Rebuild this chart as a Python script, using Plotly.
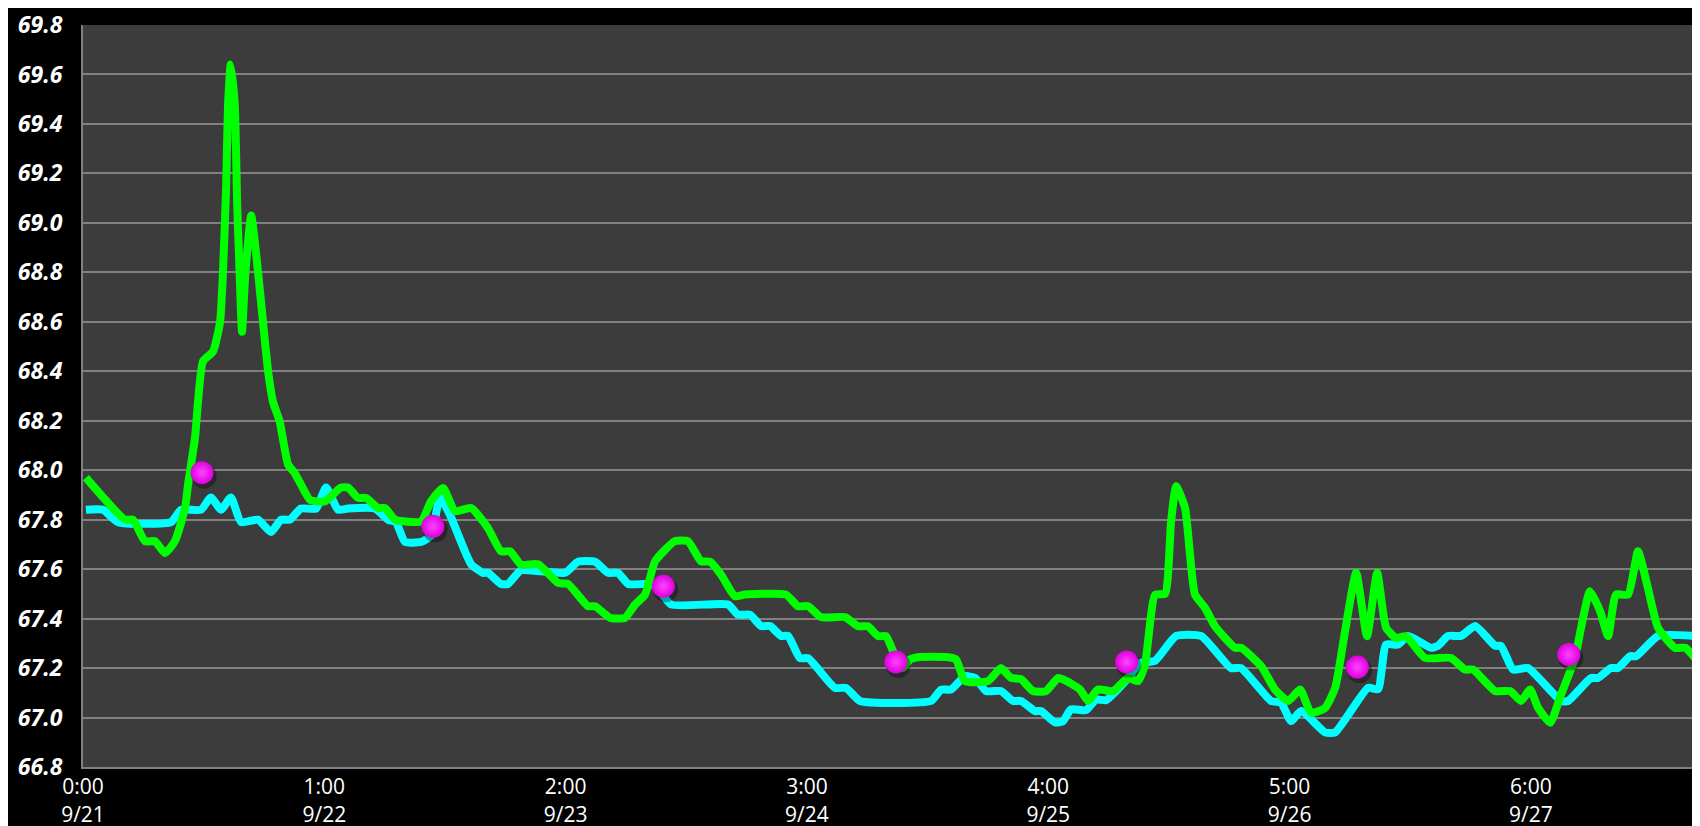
import plotly.graph_objects as go

# time in days since 9/21 0:00
cyan_t = [0.012, 0.083, 0.145, 0.365, 0.406, 0.489, 0.530, 0.572, 0.613, 0.655, 0.725, 0.779, 0.821, 0.858,
          0.903, 0.966, 1.007, 1.057, 1.098, 1.210, 1.264, 1.297, 1.334, 1.401, 1.442, 1.480, 1.525, 1.608,
          1.658, 1.678, 1.732, 1.761, 1.815, 1.998, 2.051, 2.122, 2.176, 2.217, 2.259, 2.329, 2.371, 2.437,
          2.673, 2.714, 2.764, 2.810, 2.847, 2.893, 2.922, 2.971, 3.005, 3.116, 3.162, 3.220, 3.514, 3.556,
          3.597, 3.655, 3.697, 3.742, 3.804, 3.854, 3.887, 3.945, 3.970, 4.028, 4.061, 4.094, 4.157, 4.198,
          4.240, 4.281, 4.331, 4.380, 4.443, 4.530, 4.633, 4.757, 4.799, 4.923, 4.965, 5.006, 5.048, 5.147,
          5.189, 5.325, 5.367, 5.400, 5.450, 5.491, 5.586, 5.615, 5.657, 5.711, 5.769, 5.852, 5.876, 5.926,
          5.988, 6.125, 6.154, 6.249, 6.278, 6.332, 6.361, 6.411, 6.436, 6.527, 6.680]
cyan_v = [67.84, 67.84, 67.79, 67.79, 67.84, 67.84, 67.89, 67.84, 67.89, 67.79, 67.80, 67.75, 67.80, 67.80,
          67.845, 67.845, 67.93, 67.84, 67.845, 67.845, 67.80, 67.79, 67.71, 67.71, 67.735, 67.89, 67.81, 67.62,
          67.585, 67.585, 67.54, 67.54, 67.595, 67.585, 67.63, 67.63, 67.585, 67.585, 67.54, 67.54, 67.535, 67.457,
          67.457, 67.416, 67.416, 67.37, 67.37, 67.33, 67.33, 67.24, 67.24, 67.12, 67.12, 67.067, 67.067, 67.113,
          67.113, 67.167, 67.16, 67.107, 67.107, 67.067, 67.067, 67.026, 67.026, 66.98, 66.985, 67.033, 67.03, 67.073,
          67.07, 67.107, 67.16, 67.22, 67.23, 67.33, 67.33, 67.20, 67.20, 67.067, 67.06, 66.986, 67.026, 66.94,
          66.94, 67.12, 67.115, 67.295, 67.295, 67.33, 67.282, 67.29, 67.33, 67.33, 67.37, 67.29, 67.29, 67.194,
          67.20, 67.067, 67.067, 67.16, 67.16, 67.20, 67.20, 67.248, 67.248, 67.33, 67.33]

green_t = [0.012, 0.174, 0.207, 0.257, 0.298, 0.340, 0.381, 0.423, 0.435, 0.464, 0.497, 0.539, 0.568, 0.580,
           0.593, 0.601, 0.612, 0.629, 0.639, 0.649, 0.659, 0.673, 0.697, 0.718, 0.739, 0.767, 0.787, 0.815,
           0.850, 0.877, 0.899, 0.941, 1.003, 1.069, 1.098, 1.140, 1.173, 1.223, 1.252, 1.293, 1.401, 1.442,
           1.492, 1.542, 1.608, 1.678, 1.732, 1.770, 1.815, 1.886, 1.969, 2.010, 2.093, 2.122, 2.184, 2.246,
           2.288, 2.329, 2.371, 2.453, 2.507, 2.561, 2.598, 2.644, 2.702, 2.743, 2.913, 2.963, 3.005, 3.058,
           3.158, 3.212, 3.253, 3.295, 3.328, 3.357, 3.398, 3.427, 3.460, 3.585, 3.618, 3.655, 3.750, 3.804,
           3.846, 3.887, 3.937, 3.991, 4.041, 4.070, 4.132, 4.165, 4.206, 4.269, 4.331, 4.372, 4.401, 4.443,
           4.484, 4.509, 4.530, 4.567, 4.608, 4.650, 4.691, 4.774, 4.799, 4.882, 4.940, 4.994, 5.044, 5.089,
           5.147, 5.189, 5.230, 5.276, 5.321, 5.363, 5.400, 5.441, 5.482, 5.561, 5.669, 5.727, 5.760, 5.852,
           5.914, 5.959, 5.997, 6.030, 6.080, 6.125, 6.183, 6.208, 6.245, 6.287, 6.320, 6.353, 6.403, 6.444,
           6.485, 6.527, 6.597, 6.640, 6.680]
green_v = [67.97, 67.80, 67.80, 67.713, 67.713, 67.665, 67.713, 67.847, 67.94, 68.13, 68.44, 68.48, 68.60, 68.80,
           69.14, 69.476, 69.64, 69.476, 69.07, 68.80, 68.56, 68.80, 69.03, 68.87, 68.668, 68.40, 68.278, 68.197,
           68.022, 67.989, 67.95, 67.88, 67.874, 67.93, 67.93, 67.888, 67.888, 67.847, 67.847, 67.80, 67.793, 67.874,
           67.928, 67.834, 67.847, 67.766, 67.672, 67.672, 67.618, 67.62, 67.544, 67.54, 67.45, 67.45, 67.403, 67.403,
           67.457, 67.497, 67.632, 67.713, 67.713, 67.632, 67.63, 67.578, 67.49, 67.497, 67.497, 67.45, 67.45, 67.406,
           67.406, 67.369, 67.369, 67.329, 67.329, 67.268, 67.20, 67.235, 67.244, 67.244, 67.235, 67.147, 67.147, 67.20,
           67.16, 67.155, 67.107, 67.107, 67.16, 67.15, 67.113, 67.067, 67.113, 67.107, 67.16, 67.147, 67.214, 67.497,
           67.50, 67.793, 67.935, 67.847, 67.497, 67.443, 67.369, 67.282, 67.282, 67.208, 67.113, 67.067, 67.113, 67.019,
           67.039, 67.12, 67.349, 67.585, 67.329, 67.585, 67.363, 67.322, 67.329, 67.241, 67.241, 67.194, 67.194, 67.107,
           67.107, 67.067, 67.113, 67.039, 66.979, 67.093, 67.241, 67.363, 67.511, 67.43, 67.329, 67.497, 67.497, 67.672,
           67.524, 67.363, 67.282, 67.282, 67.241]

dot_t = [0.493, 1.450, 2.405, 3.369, 4.325, 5.281, 6.157]
dot_v = [67.99, 67.773, 67.531, 67.225, 67.225, 67.204, 67.255]

tick_vals = [0, 1, 2, 3, 4, 5, 6]
tick_text = ["0:00<br>9/21", "1:00<br>9/22", "2:00<br>9/23", "3:00<br>9/24",
             "4:00<br>9/25", "5:00<br>9/26", "6:00<br>9/27"]
y_ticks = [66.8, 67.0, 67.2, 67.4, 67.6, 67.8, 68.0, 68.2, 68.4, 68.6, 68.8, 69.0, 69.2, 69.4, 69.6, 69.8]

fig = go.Figure()
fig.add_trace(go.Scatter(x=cyan_t, y=cyan_v, mode="lines",
                         line=dict(color="#00ffff", width=8, shape="spline", smoothing=0.5),
                         hoverinfo="skip"))
fig.add_trace(go.Scatter(x=green_t, y=green_v, mode="lines",
                         line=dict(color="#00ff00", width=8, shape="spline", smoothing=0.5),
                         hoverinfo="skip"))
# soft shadow under the spheres
fig.add_trace(go.Scatter(x=[t + 0.009 for t in dot_t], y=[v - 0.014 for v in dot_v], mode="markers",
                         marker=dict(size=25, color="rgba(0,0,0,0.35)", line=dict(width=0)),
                         hoverinfo="skip"))
fig.add_trace(go.Scatter(x=dot_t, y=dot_v, mode="markers",
                         marker=dict(size=23, color="#dd00dd",
                                     gradient=dict(type="radial", color="#ff44ff"),
                                     line=dict(width=0)),
                         hoverinfo="skip"))

fig.update_layout(
    width=1700, height=826,
    paper_bgcolor="#000000", plot_bgcolor="#3c3c3c",
    margin=dict(l=75, r=7, t=17, b=67, autoexpand=False),
    showlegend=False,
    xaxis=dict(range=[0, 6.705], tickvals=tick_vals, ticktext=tick_text, automargin=False,
               showgrid=False, zeroline=False, showline=True, linecolor="#808080", linewidth=2,
               ticks="", ticklabeloverflow="allow",
               tickfont=dict(family="Open Sans", size=21, color="#ffffff")),
    yaxis=dict(range=[66.8, 69.8], tickvals=y_ticks, tickformat=".1f", automargin=False,
               showgrid=True, gridcolor="#808080", gridwidth=1.5, zeroline=False,
               showline=True, linecolor="#808080", linewidth=2, ticks="", ticklabelstandoff=14,
               ticklabeloverflow="allow",
               tickfont=dict(family="Open Sans", size=23, color="#ffffff", weight="bold", style="italic")),
)

fig.write_html("out.html")
